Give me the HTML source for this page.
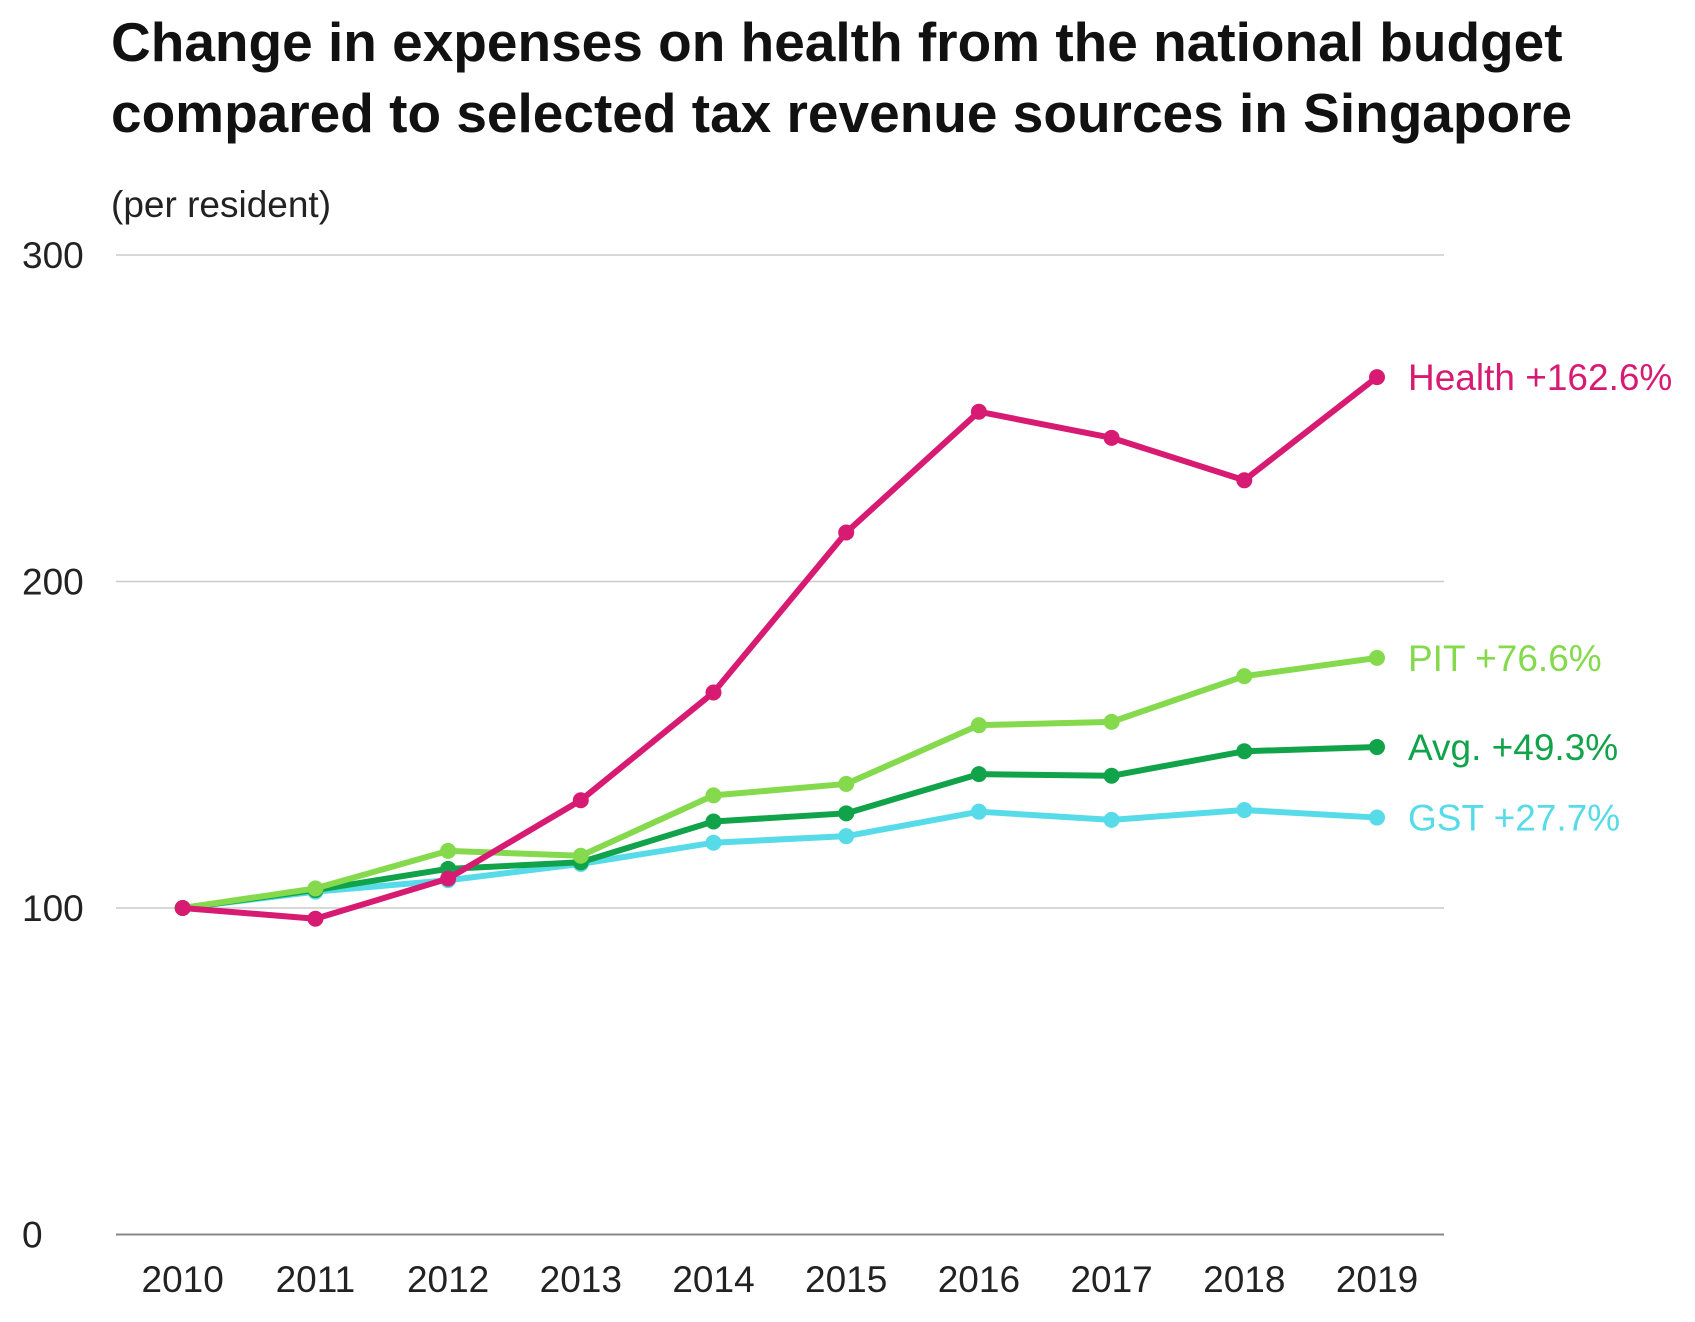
<!DOCTYPE html>
<html><head><meta charset="utf-8"><style>
body{margin:0;background:#fff;font-family:"Liberation Sans",sans-serif;}
svg{display:block}
</style></head><body>
<svg width="1695" height="1322" xmlns="http://www.w3.org/2000/svg" id="chart">
<text x="111" y="61" font-size="55" font-weight="bold" fill="#111">Change in expenses on health from the national budget</text>
<text x="111" y="132" font-size="55" font-weight="bold" fill="#111">compared to selected tax revenue sources in Singapore</text>
<text x="111" y="217" font-size="37" fill="#222">(per resident)</text>
<g id="grid"></g><g id="xaxis"></g><g id="series"></g>
</svg>
<script>
const years=["2010","2011","2012","2013","2014","2015","2016","2017","2018","2019"];
const yTicks=[0,100,200,300];
const health=[100,96.7,109,133,166,215,252,244,231,262.6];
const pit=[100,106,117.5,116,134.5,138,156,157,171,176.6];
const avg=[100,105.5,112,114,126.5,129,141,140.5,148,149.3];
const gst=[100,105,108.5,113.5,120,122,129.5,127,130,127.7];
const seriesNames=["GST +27.7%","Avg. +49.3%","PIT +76.6%","Health +162.6%"];
const NS="http://www.w3.org/2000/svg";
const x=i=>182.7+i*132.7;
const y=v=>1234.5-v*3.265;
function mk(t,a,p){const e=document.createElementNS(NS,t);for(const k in a)e.setAttribute(k,a[k]);p.appendChild(e);return e;}
const grid=document.getElementById('grid');
yTicks.forEach(t=>{
 const l=mk('line',{x1:116,x2:1444,y1:y(t),y2:y(t),stroke:t===0?'#888':'#ccc','stroke-width':t===0?2:1.5},grid);
 
 
 const tx=mk('text',{x:22,y:y(t)+13,'font-size':37,fill:'#222'},grid);tx.textContent=t;
 
 
});
const xa=document.getElementById('xaxis');
years.forEach((yr,i)=>{
 const tx=mk('text',{x:x(i),y:1292,'font-size':37,fill:'#222','text-anchor':'middle'},xa);tx.textContent=yr;
 
 
});
const sg=document.getElementById('series');
const defs=[[gst,'#58dbe9','gst'],[avg,'#10a34a','avg'],[pit,'#84da4c','pit'],[health,'#d81b72','health']];
defs.forEach(([d,c,n],si)=>{
 const p=mk('polyline',{points:d.map((v,i)=>x(i)+','+y(v)).join(' '),fill:'none',stroke:c,'stroke-width':6,'stroke-linejoin':'round'},sg);
 
 
 d.forEach((v,i)=>{const ci=mk('circle',{cx:x(i),cy:y(v),r:8,fill:c},sg);
  
  });
 const lb=mk('text',{x:1408,y:y(d[d.length-1])+13,'font-size':37,fill:c},sg);lb.textContent=seriesNames[si];
 
 
});
</script>
</body></html>
